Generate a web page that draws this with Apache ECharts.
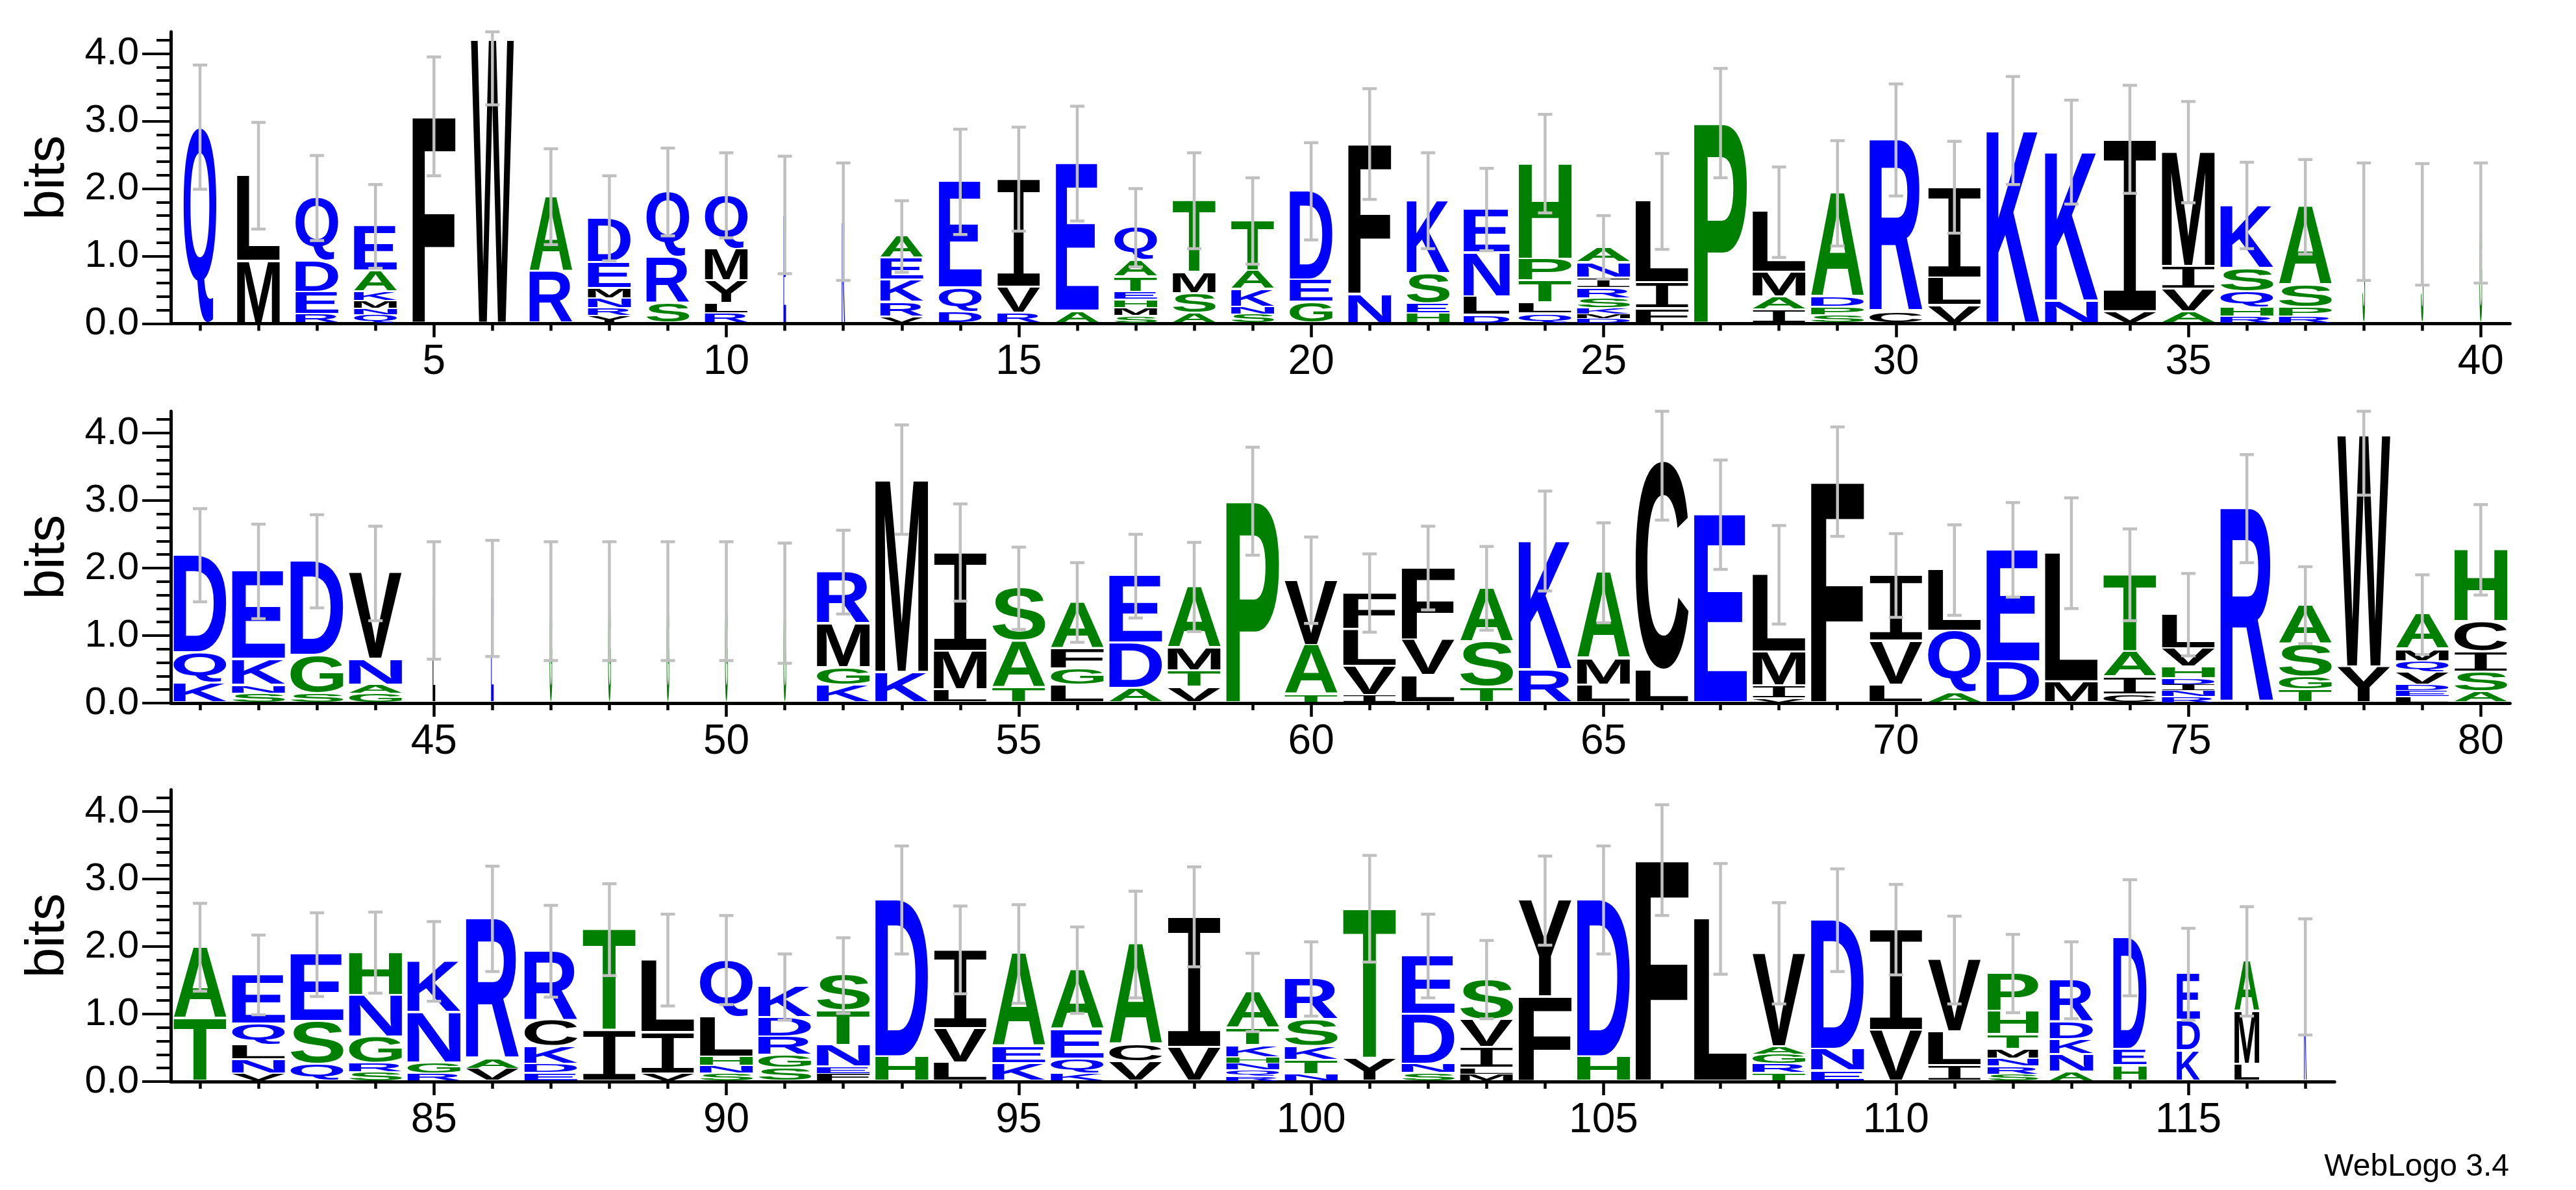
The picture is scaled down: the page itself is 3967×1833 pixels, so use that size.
<!DOCTYPE html>
<html>
<head>
<meta charset="utf-8">
<script src="https://cdn.jsdelivr.net/npm/echarts@6/dist/echarts.min.js"></script>
<style>
  html, body { margin: 0; padding: 0; background: #fff; }
  #chart { width: 3967px; height: 1833px; }
</style>
</head>
<body>
<div id="chart"></div>
<script>
// ================================================================
// Sequence logo (WebLogo style) — 117 positions, 40 per row
// letters are listed bottom -> top for every position
// ================================================================
const MAX_BITS = Math.log2(20)
const PER_ROW = 40
const POS_COUNT = 117

const stackLetters = [
  'Q', 'ML', 'REDQ', 'QNMKAE', 'F', 'W', 'RA', 'YRNMED', 'SRQ', 'RLYMQ',
  'E', 'K', 'VRKEA', 'DQE', 'RVI', 'AE', 'SMHETAQ', 'ASMT', 'SNKAT', 'GED',
  'NF', 'HESK', 'DLNE', 'QLTPH', 'DMKSRINA', 'FIL', 'P', 'IAML', 'SPDA', 'CR',
  'VLI', 'K', 'NK', 'VI', 'AVIM', 'RHQSK', 'RPSA', 'S', 'S', 'G',
  'KQD', 'SNKE', 'SGD', 'GANV', 'L', 'E', 'G', 'G', 'G', 'G',
  'G', 'KGMR', 'KM', 'LMI', 'TAS', 'LGFA', 'ADE', 'VTMA', 'P', 'TAV',
  'IVLF', 'LVF', 'TSA', 'RK', 'LMA', 'LC', 'E', 'VIML', 'F', 'LVI',
  'AQL', 'DE', 'ML', 'CIAT', 'RNIDHVL', 'R', 'TGSA', 'YW', 'LEDVQMA', 'ASICH',
  'TA', 'VNLQE', 'QSE', 'SRGNH', 'RGNK', 'VAR', 'EDKCR', 'IT', 'VIL', 'SNHLQ',
  'SGRDK', 'FENTS', 'HD', 'LVI', 'KEA', 'KQEA', 'VCA', 'VI', 'RQNHKTA', 'NTKSR',
  'YT', 'SNDE', 'MLIVS', 'FY', 'HD', 'F', 'L', 'TRGAV', 'END', 'VI',
  'ILV', 'SRNMTHP', 'ANKDR', 'HED', 'KDE', 'LMA', 'K',
]

const stackHeights = [
  [2.91], [0.92, 1.27], [0.13, 0.33, 0.46, 0.94], [0.13, 0.09, 0.11, 0.13, 0.31, 0.67], [3.07],
  [4.20], [0.77, 1.11], [0.11, 0.11, 0.15, 0.14, 0.39, 0.66], [0.29, 0.69, 0.97], [0.15, 0.14, 0.34, 0.47, 0.80],
  [1.61], [1.51], [0.09, 0.22, 0.33, 0.32, 0.33], [0.17, 0.35, 1.58], [0.15, 0.38, 1.61],
  [0.18, 2.19], [0.11, 0.12, 0.12, 0.11, 0.23, 0.24, 0.49], [0.15, 0.29, 0.31, 1.07], [0.13, 0.11, 0.26, 0.27, 0.75], [0.31, 0.33, 1.32],
  [0.43, 2.23], [0.15, 0.14, 0.45, 1.08], [0.12, 0.27, 0.65, 0.65], [0.14, 0.16, 0.33, 0.32, 1.42], [0.07, 0.07, 0.08, 0.15, 0.15, 0.15, 0.23, 0.23],
  [0.22, 0.38, 1.21], [2.97], [0.20, 0.19, 0.36, 0.90], [0.12, 0.12, 0.15, 1.54], [0.17, 2.55],
  [0.26, 0.41, 1.35], [2.86], [0.33, 2.21], [0.17, 2.56], [0.17, 0.33, 0.34, 1.70],
  [0.10, 0.13, 0.23, 0.35, 0.94], [0.10, 0.13, 0.33, 1.17], [1.51], [1.47], [1.49],
  [0.29, 0.45, 1.45], [0.14, 0.12, 0.38, 1.31], [0.14, 0.56, 1.40], [0.13, 0.13, 0.38, 1.28], [1.52],
  [1.55], [1.51], [1.51], [1.51], [1.51],
  [1.48], [0.26, 0.26, 0.65, 0.77], [0.45, 2.86], [0.19, 0.57, 1.47], [0.23, 0.68, 0.79],
  [0.26, 0.24, 0.30, 0.69], [0.21, 0.67, 1.00], [0.23, 0.24, 0.34, 0.91], [2.99], [0.12, 0.73, 0.97],
  [0.11, 0.43, 0.55, 0.54], [0.40, 0.53, 1.07], [0.23, 0.67, 0.80], [0.49, 1.91], [0.26, 0.39, 1.28],
  [0.48, 3.10], [2.79], [0.06, 0.19, 0.50, 1.15], [3.28], [0.26, 0.65, 0.98],
  [0.14, 0.92, 0.91], [0.61, 1.66], [0.31, 1.91], [0.12, 0.26, 0.38, 1.14], [0.09, 0.09, 0.09, 0.09, 0.17, 0.27, 0.51],
  [2.88], [0.19, 0.19, 0.49, 0.58], [0.53, 3.43], [0.09, 0.09, 0.08, 0.18, 0.17, 0.18, 0.52], [0.16, 0.29, 0.30, 0.45, 1.07],
  [0.93, 1.06], [0.11, 0.21, 0.22, 0.31, 0.73], [0.25, 0.63, 1.00], [0.13, 0.13, 0.39, 0.62, 0.64], [0.11, 0.16, 0.75, 0.76],
  [0.18, 0.15, 2.08], [0.12, 0.13, 0.26, 0.39, 1.03], [0.75, 1.50], [0.11, 0.61, 1.08], [0.12, 0.11, 0.13, 0.59, 0.85],
  [0.19, 0.19, 0.27, 0.29, 0.46], [0.11, 0.10, 0.32, 0.51, 0.53], [0.36, 2.33], [0.27, 0.51, 1.17], [0.26, 0.25, 1.38],
  [0.11, 0.22, 0.43, 0.89], [0.29, 0.25, 1.49], [0.50, 1.94], [0.07, 0.10, 0.10, 0.08, 0.18, 0.25, 0.54], [0.10, 0.21, 0.20, 0.40, 0.61],
  [0.34, 2.22], [0.12, 0.13, 0.74, 0.87], [0.10, 0.09, 0.31, 0.41, 0.60], [1.25, 1.43], [0.36, 2.33],
  [3.28], [2.41], [0.12, 0.13, 0.15, 0.11, 1.39], [0.15, 0.32, 1.92], [0.75, 1.50],
  [0.23, 0.50, 1.07], [0.10, 0.12, 0.12, 0.13, 0.22, 0.35, 0.56], [0.13, 0.26, 0.23, 0.26, 0.62], [0.23, 0.24, 1.66], [0.45, 0.45, 0.69],
  [0.25, 0.78, 0.75], [1.55],
]

// stack width as a fraction of a full column (occupancy)
const stackOccupancy = [
  0.62, 0.81, 0.81, 0.81, 0.81, 0.81, 0.81, 0.81, 0.81, 0.81,
  0.05, 0.06, 0.81, 0.81, 0.81, 0.81, 0.81, 0.81, 0.81, 0.81,
  0.81, 0.81, 0.87, 1, 1, 1, 1, 1, 1, 1,
  1, 1, 1, 1, 1, 1, 1, 0.05, 0.05, 0.05,
  1, 1, 1, 1, 0.05, 0.05, 0.05, 0.05, 0.05, 0.05,
  0.05, 1, 1, 1, 1, 1, 1, 1, 1, 1,
  1, 1, 1, 1, 1, 1, 1, 1, 1, 1,
  1, 1, 1, 1, 1, 1, 1, 1, 1, 1,
  1, 1, 1, 1, 1, 1, 1, 1, 1, 1,
  1, 1, 1, 1, 1, 1, 1, 1, 1, 1,
  1, 1, 1, 1, 1, 1, 1, 1, 1, 1,
  1, 0.96, 0.82, 0.63, 0.44, 0.47, 0.05,
]

// half length of the grey error bar (bits)
const errorHalf = [
  0.92, 0.79, 0.63, 0.62, 0.88, 0.96, 0.71, 0.63, 0.65, 0.63,
  0.87, 0.87, 0.53, 0.78, 0.77, 0.85, 0.58, 0.71, 0.64, 0.72,
  0.82, 0.71, 0.61, 0.73, 0.47, 0.71, 0.81, 0.67, 0.78, 0.83,
  0.68, 0.80, 0.77, 0.80, 0.75, 0.64, 0.70, 0.87, 0.90, 0.89,
  0.69, 0.70, 0.69, 0.70, 0.87, 0.86, 0.88, 0.88, 0.88, 0.88,
  0.89, 0.62, 0.81, 0.72, 0.61, 0.59, 0.62, 0.66, 0.80, 0.64,
  0.58, 0.62, 0.62, 0.74, 0.74, 0.87, 0.81, 0.73, 0.81, 0.62,
  0.67, 0.70, 0.82, 0.68, 0.61, 0.80, 0.57, 0.88, 0.59, 0.67,
  0.65, 0.59, 0.62, 0.60, 0.59, 0.78, 0.68, 0.68, 0.68, 0.66,
  0.49, 0.56, 0.80, 0.65, 0.73, 0.64, 0.79, 0.74, 0.58, 0.55,
  0.79, 0.62, 0.58, 0.66, 0.80, 0.82, 0.82, 0.75, 0.76, 0.67,
  0.65, 0.58, 0.57, 0.86, 0.68, 0.81, 0.86,
]

const yMajorTicks = [0, 1, 2, 3, 4]
const yMinorTicks = [0.2, 0.4, 0.6, 0.8, 1.2, 1.4, 1.6, 1.8, 2.2, 2.4, 2.6, 2.8, 3.2, 3.4, 3.6, 3.8, 4.2]

// ---- layout ----
const GRID_LEFT = 263
const GRID_HEIGHT = 449.5
const ROW_ZERO = [498.5, 1083, 1666]
const COL_PX = 90.06
const STACK_FRAC = 0.905

// ---- colours: hydrophobicity scheme ----
function letterColor(c) {
  if ('RKDENQ'.includes(c)) return '#0000ff'
  if ('SGHTAP'.includes(c)) return '#008000'
  return '#000000'
}

// ---- glyph ink metrics (canvas 'middle' baseline, as zrender draws it) ----
const measureCtx = document.createElement('canvas').getContext('2d')
const metricCache = {}
function glyphMetrics(c) {
  if (metricCache[c]) return metricCache[c]
  // serif-barred I, like the WebLogo glyph
  const font = c === 'I' ? '200px "Liberation Mono"' : 'bold 200px "Liberation Sans"'
  measureCtx.font = font
  measureCtx.textAlign = 'left'
  measureCtx.textBaseline = 'middle'
  const mt = measureCtx.measureText(c)
  const m = {
    font,
    left: mt.actualBoundingBoxLeft,
    ascent: mt.actualBoundingBoxAscent,
    w: mt.actualBoundingBoxLeft + mt.actualBoundingBoxRight,
    h: mt.actualBoundingBoxAscent + mt.actualBoundingBoxDescent,
  }
  metricCache[c] = m
  return m
}

// ---- build per-row data ----
const rowCount = Math.ceil(POS_COUNT / PER_ROW)
const rowGlyphs = []
const rowLetterData = []
const rowErrorData = []
for (let r = 0; r < rowCount; r++) {
  rowGlyphs.push([])
  rowLetterData.push([])
  rowErrorData.push([])
}
for (let i = 0; i < POS_COUNT; i++) {
  const pos = i + 1
  const r = Math.floor(i / PER_ROW)
  let acc = 0
  const letters = stackLetters[i]
  stackHeights[i].forEach((h, k) => {
    rowGlyphs[r].push(letters[k])
    rowLetterData[r].push([pos, acc, acc + h, stackOccupancy[i]])
    acc += h
  })
  rowErrorData[r].push([pos, acc, errorHalf[i]])
}

function renderLetter(row) {
  return function (params, api) {
    const g = rowGlyphs[row][params.dataIndex]
    const pos = api.value(0)
    const bottom = api.coord([pos, api.value(1)])
    const top = api.coord([pos, api.value(2)])
    const step = api.size([1, 0])[0]
    const w = step * STACK_FRAC * api.value(3)
    const h = bottom[1] - top[1]
    const boxH = h - Math.min(3, h * 0.15)
    if (boxH <= 0.3 || w <= 0) return
    const m = glyphMetrics(g)
    const sx = w / m.w
    const sy = boxH / m.h
    return {
      type: 'text',
      silent: true,
      x: top[0] - w / 2 + m.left * sx,
      y: top[1] + m.ascent * sy,
      scaleX: sx,
      scaleY: sy,
      style: { text: g, font: m.font, fill: letterColor(g), align: 'left', verticalAlign: 'middle' },
    }
  }
}

function renderError(params, api) {
  const pos = api.value(0)
  const c = api.value(1)
  const e = api.value(2)
  const lo = api.coord([pos, Math.max(0, c - e)])
  const hi = api.coord([pos, Math.min(MAX_BITS, c + e)])
  const half = 11
  const style = { stroke: '#c0c0c0', lineWidth: 4.5 }
  return {
    type: 'group',
    silent: true,
    children: [
      { type: 'line', shape: { x1: lo[0], y1: lo[1], x2: hi[0], y2: hi[1] }, style },
      { type: 'line', shape: { x1: hi[0] - half, y1: hi[1], x2: hi[0] + half, y2: hi[1] }, style },
      { type: 'line', shape: { x1: lo[0] - half, y1: lo[1], x2: lo[0] + half, y2: lo[1] }, style },
    ],
  }
}

// ---- option ----
const FONT = '"Liberation Sans", Arial, sans-serif'
const axisLineStyle = { color: '#000', width: 5 }
const grids = []
const xAxes = []
const yAxes = []
const series = []

for (let r = 0; r < rowCount; r++) {
  const first = r * PER_ROW + 1
  const last = Math.min(POS_COUNT, first + PER_ROW - 1)
  const xMin = first - 0.5
  const xMax = last + 0.5
  const allPos = []
  const fivePos = []
  for (let p = first; p <= last; p++) {
    allPos.push(p)
    if (p % 5 === 0) fivePos.push(p)
  }
  grids.push({
    left: GRID_LEFT,
    top: ROW_ZERO[r] - GRID_HEIGHT,
    width: (xMax - xMin) * COL_PX,
    height: GRID_HEIGHT,
  })
  // major x axis (labels every 5)
  xAxes.push({
    type: 'value', gridIndex: r, position: 'bottom', min: xMin, max: xMax,
    axisLine: { show: true, onZero: false, lineStyle: axisLineStyle },
    axisTick: { show: true, customValues: fivePos, length: 21, lineStyle: { color: '#000', width: 4.5 } },
    axisLabel: { show: true, customValues: fivePos, color: '#000', fontSize: 64, fontFamily: FONT, margin: 28 },
    splitLine: { show: false },
  })
  // minor x axis (tick on every column)
  xAxes.push({
    type: 'value', gridIndex: r, position: 'bottom', min: xMin, max: xMax,
    axisLine: { show: false, onZero: false },
    axisTick: { show: true, customValues: allPos, length: 11, lineStyle: { color: '#000', width: 4.5 } },
    axisLabel: { show: false },
    splitLine: { show: false },
  })
  yAxes.push({
    type: 'value', gridIndex: r, position: 'left', min: 0, max: MAX_BITS,
    name: 'bits', nameLocation: 'middle', nameRotate: 90, nameGap: 146,
    nameTextStyle: { color: '#000', fontSize: 84, fontFamily: FONT },
    axisLine: { show: true, lineStyle: axisLineStyle },
    axisTick: { show: true, customValues: yMajorTicks, length: 44, lineStyle: { color: '#000', width: 4 } },
    axisLabel: {
      show: true, customValues: yMajorTicks, color: '#000', fontSize: 60, fontFamily: FONT, margin: 49,
      formatter: (v) => Number(v).toFixed(1),
    },
    splitLine: { show: false },
  })
  yAxes.push({
    type: 'value', gridIndex: r, position: 'left', min: 0, max: MAX_BITS,
    axisLine: { show: false },
    axisTick: { show: true, customValues: yMinorTicks, length: 22, lineStyle: { color: '#000', width: 4 } },
    axisLabel: { show: false },
    splitLine: { show: false },
  })

  series.push({
    type: 'custom',
    name: 'letters-' + r,
    xAxisIndex: r * 2,
    yAxisIndex: r * 2,
    data: rowLetterData[r],
    encode: { x: 0, y: [1, 2] },
    renderItem: renderLetter(r),
    z: 2,
  })
  series.push({
    type: 'custom',
    name: 'errors-' + r,
    xAxisIndex: r * 2,
    yAxisIndex: r * 2,
    data: rowErrorData[r],
    encode: { x: 0, y: 1 },
    renderItem: renderError,
    z: 3,
  })
}

const chart = echarts.init(document.getElementById('chart'), null, { renderer: 'canvas' })
chart.setOption({
  backgroundColor: '#ffffff',
  animation: false,
  grid: grids,
  xAxis: xAxes,
  yAxis: yAxes,
  series,
  graphic: [
    {
      type: 'text', x: 3864, y: 1822, silent: true,
      style: { text: 'WebLogo 3.4', font: '48px "Liberation Sans"', fill: '#000', align: 'right', verticalAlign: 'bottom' },
    },
  ],
})
</script>
</body>
</html>
